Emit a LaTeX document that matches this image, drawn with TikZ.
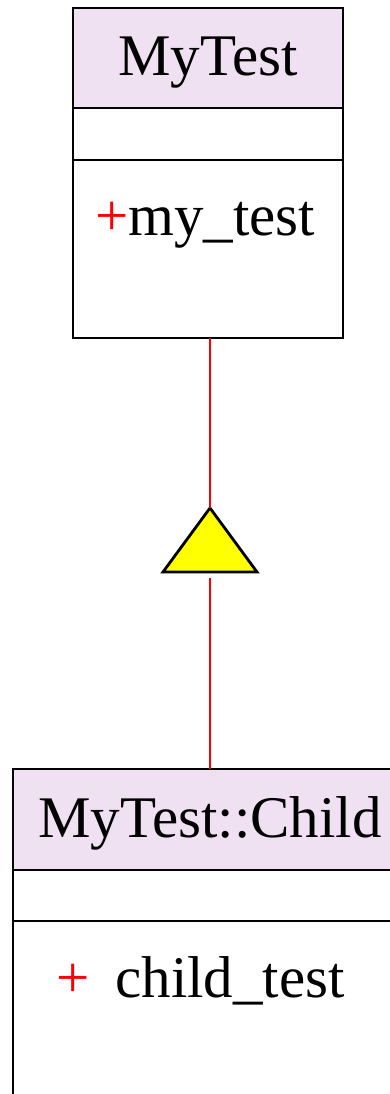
\documentclass[tikz,border=0pt]{standalone}
\usepackage{fontspec}
\setmainfont{Liberation Serif}
\usetikzlibrary{positioning}

\definecolor{classfill}{RGB}{239,225,242}
\definecolor{inheritfill}{RGB}{255,255,0}

\tikzset{
  classhead/.style={draw, line width=2.8pt, fill=classfill, outer sep=0pt, inner sep=0pt,
    text height=40pt, text depth=5pt, font=\fontsize{59}{62}\selectfont},
  classpart/.style={draw, line width=2.8pt, fill=white, outer sep=0pt, inner sep=0pt},
  member/.style={anchor=base west, inner sep=0pt, font=\fontsize{59}{62}\selectfont},
  inherit/.style={draw=red, line width=2pt},
}

\begin{document}
\begin{tikzpicture}[x=1pt, y=-1pt]
  \useasboundingbox (0,0) rectangle (390,1094);
  \clip (0,0) rectangle (390,1094);

  % Parent class
  \node[classhead, minimum width=270, minimum height=100] (mytest) at (208,58) {MyTest};
  \node[classpart, minimum width=270, minimum height=52, anchor=north] (mytestattr) at (mytest.south) {};
  \node[classpart, minimum width=270, minimum height=178, anchor=north] (mytestops) at (mytestattr.south) {};
  \node[member] (mytestop) at (95,235) {\textcolor{red}{+}my\_test};

  % Child class
  \node[classhead, minimum width=394, minimum height=101] (child) at (210,819.5) {MyTest::Child};
  \node[classpart, minimum width=394, minimum height=51, anchor=north] (childattr) at (child.south) {};
  \node[classpart, minimum width=394, minimum height=250, anchor=north] (childops) at (childattr.south) {};
  \node[member] (childop) at (56,997) {\textcolor{red}{+}\hspace{26pt}child\_test};

  % Generalization
  \coordinate (apex) at (210,508);
  \coordinate (tribase) at (210,578);
  \draw[line width=2.8pt, fill=inheritfill, line join=miter] (apex) -- (163,572) -- (257,572) -- cycle;
  \draw[inherit] (mytestops.south -| apex) -- (apex);
  \draw[inherit] (tribase) -- (child.north);
\end{tikzpicture}
\end{document}
